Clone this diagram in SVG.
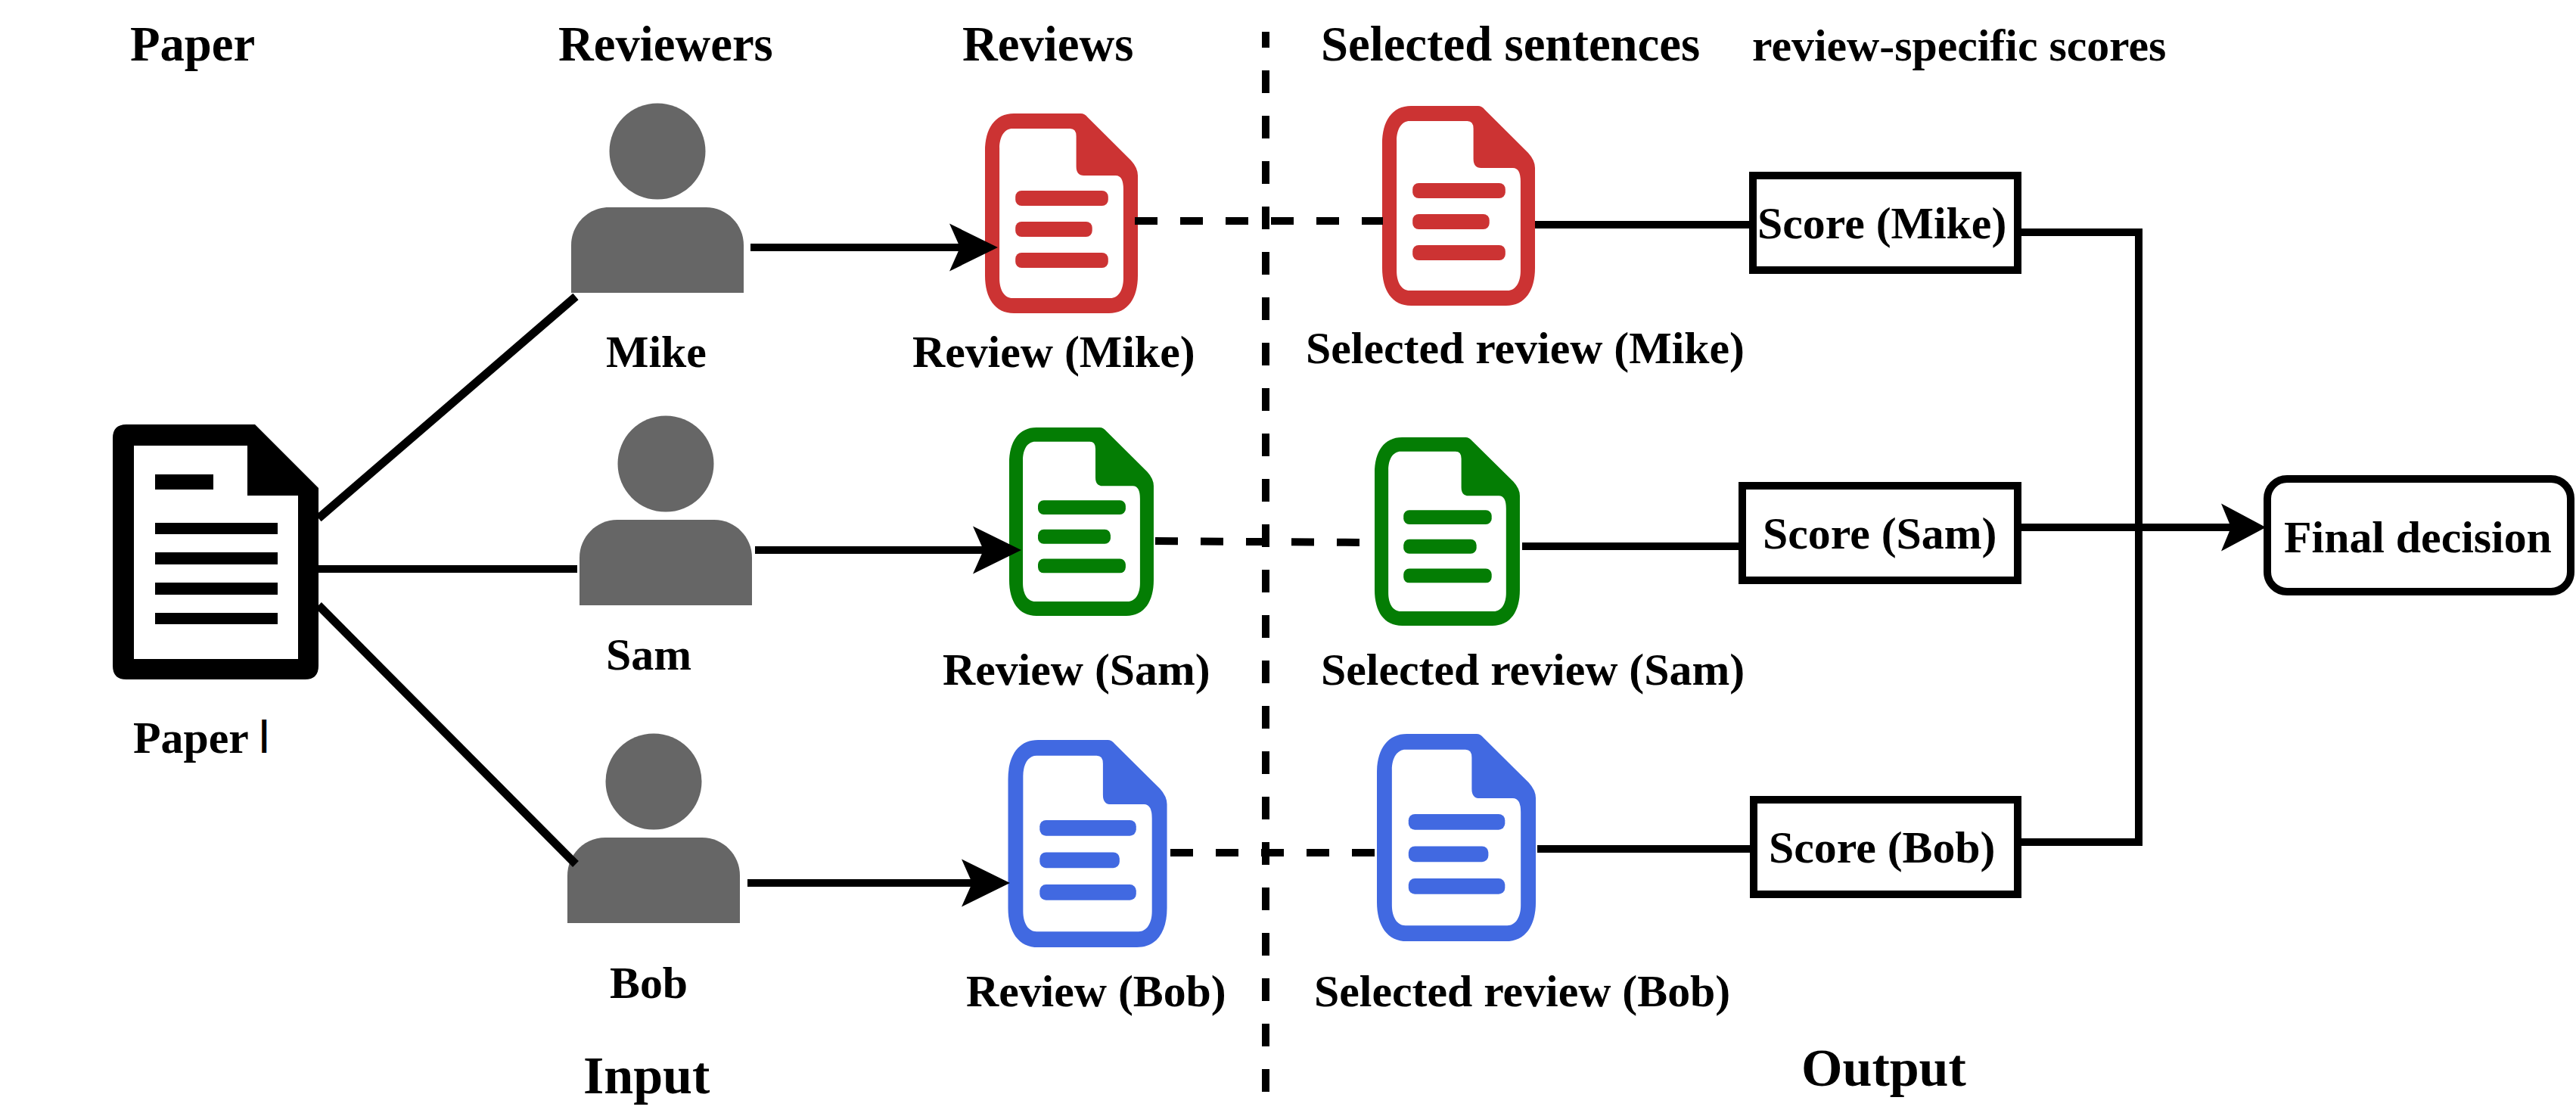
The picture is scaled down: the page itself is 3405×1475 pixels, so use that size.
<svg xmlns="http://www.w3.org/2000/svg" width="3405" height="1475" viewBox="0 0 3405 1475">
<style>
text{font-family:"Liberation Serif","Times New Roman",serif;font-weight:bold;fill:#000}
.t{font-size:59.8px}
.h{font-size:64.7px}
.b{font-size:70px}
.person{fill:#666}
.red{fill:#cc3333}
.green{fill:#047d04}
.blue{fill:#4169e1}
.box{fill:#fff;stroke:#000;stroke-width:10}
.ln{fill:none;stroke:#000;stroke-width:10}
.diag{stroke-width:11}
.dash{stroke-dasharray:30 30}
</style>
<defs>
<marker id="head" markerUnits="userSpaceOnUse" markerWidth="65" markerHeight="64" refX="14" refY="32" orient="auto"><path d="M0 0.5L64 32L0 63.5L14 32Z" fill="#000"/></marker>
<marker id="headF" markerUnits="userSpaceOnUse" markerWidth="60" markerHeight="64" refX="13" refY="32" orient="auto"><path d="M0 0.5L59 32L0 63.5L13 32Z" fill="#000"/></marker>
<g id="doc">
<path fill-rule="evenodd" d="M38 0H126Q131 0 135 5L192 62Q201 72 201 82V214C201 244 188 264 163 264H38C13 264 0 244 0 214V50C0 20 13 0 38 0ZM36 20C26 20 19 30 19 46V218C19 234 26 244 36 244H165C175 244 182 234 182 218V100Q182 82 172 82H130Q120 82 120 70V30Q120 20 112 20Z"/>
<rect x="40" y="102" width="122" height="20" rx="8"/>
<rect x="40" y="143" width="101" height="20" rx="8"/>
<rect x="40" y="184" width="122" height="20" rx="8"/>
</g>
<g id="user">
<circle cx="114" cy="63" r="63.5"/>
<path d="M0 250V187C0 160 22 137 50 137H178C206 137 228 160 228 187V250Z"/>
</g>
</defs>

<g id="headers">
<text class="h" x="172" y="80">Paper</text>
<text class="h" x="738" y="80">Reviewers</text>
<text class="h" x="1272" y="80">Reviews</text>
<text class="h" x="1746" y="80">Selected sentences</text>
<text class="t" x="2316" y="80">review-specific scores</text>
<text class="b" x="771" y="1445">Input</text>
<text class="b" x="2381" y="1435">Output</text>
</g>

<g id="paper">
<path fill-rule="evenodd" d="M167 561H337L421 645V880Q421 898 403 898H167Q149 898 149 880V579Q149 561 167 561ZM177 589V871H394V655H327V589Z"/>
<rect x="205" y="627" width="77" height="20"/>
<rect x="205" y="691" width="162" height="15"/>
<rect x="205" y="730" width="162" height="16"/>
<rect x="205" y="770" width="162" height="16"/>
<rect x="205" y="810" width="162" height="15"/>
<text class="t" x="176" y="995">Paper <tspan font-family="Liberation Sans" font-size="46" dy="-10">|</tspan></text>
</g>

<g id="reviewer-mike">
<use href="#user" class="person" x="755" y="137"/>
<text class="t" x="801" y="485">Mike</text>
</g>
<g id="reviewer-sam">
<use href="#user" class="person" x="766" y="550"/>
<text class="t" x="801" y="885">Sam</text>
</g>
<g id="reviewer-bob">
<use href="#user" class="person" x="750" y="970"/>
<text class="t" x="806" y="1319">Bob</text>
</g>

<g id="review-mike">
<use href="#doc" class="red" transform="translate(1302 150) scale(1.005 1)"/>
<text class="t" x="1206" y="485">Review (Mike)</text>
</g>
<g id="review-sam">
<use href="#doc" class="green" transform="translate(1334 565) scale(.95 .943)"/>
<text class="t" x="1246" y="905">Review (Sam)</text>
</g>
<g id="review-bob">
<use href="#doc" class="blue" transform="translate(1332.5 978) scale(1.045 1.038)"/>
<text class="t" x="1277" y="1330">Review (Bob)</text>
</g>

<g id="selected-mike">
<use href="#doc" class="red" transform="translate(1827 140) scale(1.005 1)"/>
<text class="t" x="1726" y="480">Selected review (Mike)</text>
</g>
<g id="selected-sam">
<use href="#doc" class="green" transform="translate(1817 578) scale(.955 .943)"/>
<text class="t" x="1746" y="905">Selected review (Sam)</text>
</g>
<g id="selected-bob">
<use href="#doc" class="blue" transform="translate(1820 970) scale(1.045 1.038)"/>
<text class="t" x="1737" y="1330">Selected review (Bob)</text>
</g>

<g id="score-mike">
<rect class="box" x="2317" y="232" width="350" height="125"/>
<text class="t" x="2323" y="315">Score (Mike)</text>
</g>
<g id="score-sam">
<rect class="box" x="2303" y="642" width="364" height="125"/>
<text class="t" x="2330" y="725">Score (Sam)</text>
</g>
<g id="score-bob">
<rect class="box" x="2318" y="1057" width="349" height="125"/>
<text class="t" x="2338" y="1140">Score (Bob)</text>
</g>
<g id="final-decision">
<rect class="box" x="2997" y="633" width="401" height="149" rx="26"/>
<text class="t" x="3019" y="730">Final decision</text>
</g>

<g id="connectors">
<line class="ln diag" x1="421" y1="685" x2="761" y2="392"/>
<line class="ln" x1="421" y1="752" x2="763" y2="752"/>
<line class="ln diag" x1="421" y1="800" x2="761" y2="1142"/>
<line class="ln" x1="992" y1="327" x2="1269" y2="327" marker-end="url(#head)"/>
<line class="ln" x1="998" y1="727" x2="1300" y2="727" marker-end="url(#head)"/>
<line class="ln" x1="988" y1="1167" x2="1285" y2="1167" marker-end="url(#head)"/>
<line class="ln dash" x1="1500" y1="292" x2="1828" y2="292"/>
<line class="ln dash" x1="1527" y1="715" x2="1798" y2="717"/>
<line class="ln dash" x1="1547" y1="1127" x2="1820" y2="1127"/>
<line class="ln dash" x1="1673" y1="1443" x2="1673" y2="42"/>
<line class="ln" x1="2029" y1="297" x2="2312" y2="297"/>
<line class="ln" x1="2012" y1="722" x2="2298" y2="722"/>
<line class="ln" x1="2032" y1="1122" x2="2313" y2="1122"/>
<path class="ln" d="M2672 307H2827V1113H2672"/>
<line class="ln" x1="2672" y1="697" x2="2949" y2="697" marker-end="url(#headF)"/>
</g>
</svg>
